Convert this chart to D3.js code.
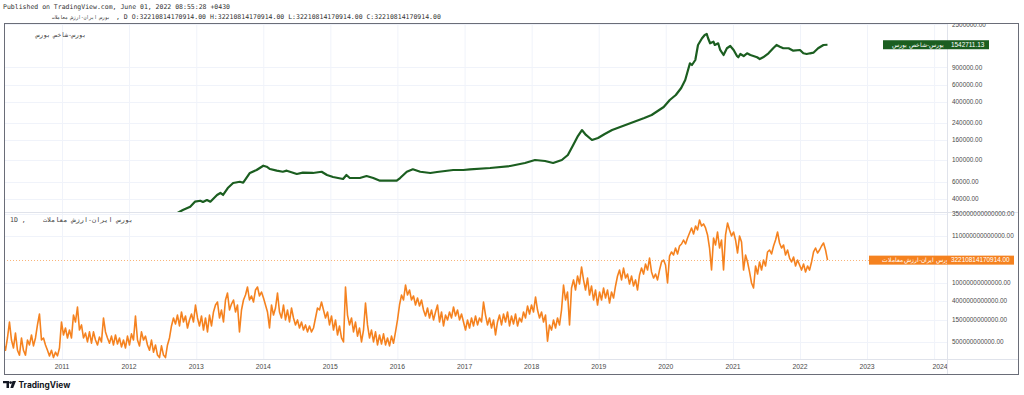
<!DOCTYPE html>
<html>
<head>
<meta charset="utf-8">
<script src="https://cdn.jsdelivr.net/npm/d3@7"></script>
<style>
  body { margin: 0; background: #fff; }
  svg { display: block; }
</style>
</head>
<body>
<svg id="chart" width="1024" height="395"></svg>
<script>
// ---- data ----
const headerPublished = "Published on TradingView.com, June 01, 2022 08:55:28 +0430";
const turnoverName = "بورس ایران-ارزش معاملات";
const indexName = "بورس-شاخص بورس";
const ohlcText = ", D O:32210814170914.00 H:32210814170914.00 L:32210814170914.00 C:32210814170914.00";

// TEDPIX (top pane), decimal years + index values
const tedpixYears = [
  2012.64, 2012.80, 2012.91, 2012.98, 2013.06, 2013.10, 2013.16, 2013.21, 2013.31, 2013.36,
  2013.40, 2013.47, 2013.55, 2013.65, 2013.70, 2013.80, 2013.90, 2014.00, 2014.05, 2014.10,
  2014.20, 2014.29, 2014.35, 2014.50, 2014.59, 2014.74, 2014.87, 2014.95, 2015.04, 2015.19,
  2015.24, 2015.29, 2015.44, 2015.54, 2015.64, 2015.74, 2015.99, 2016.04, 2016.14, 2016.23,
  2016.34, 2016.49, 2016.59, 2016.83, 2016.98, 2017.08, 2017.38, 2017.68, 2017.90, 2018.05,
  2018.20, 2018.32, 2018.45, 2018.54, 2018.62, 2018.69, 2018.75, 2018.81, 2018.90, 2018.99,
  2019.09, 2019.20, 2019.32, 2019.44, 2019.56, 2019.68, 2019.79, 2019.88, 2019.97, 2020.06,
  2020.15, 2020.23, 2020.29, 2020.36, 2020.39, 2020.44, 2020.48, 2020.54, 2020.58, 2020.61,
  2020.63, 2020.66, 2020.71, 2020.73, 2020.78, 2020.81, 2020.86, 2020.91, 2020.96, 2021.01,
  2021.06, 2021.08, 2021.11, 2021.16, 2021.21, 2021.26, 2021.36, 2021.40, 2021.45, 2021.53,
  2021.60, 2021.65, 2021.70, 2021.75, 2021.83, 2021.90, 2022.00, 2022.05, 2022.10, 2022.15,
  2022.20, 2022.27, 2022.35, 2022.41
];
const tedpixValues = [
  26500, 30500, 33000, 37200, 38000, 36900, 38700, 37200, 43600, 45700,
  43600, 51400, 57900, 59700, 58300, 73500, 78900, 87300, 85300, 80700,
  77600, 75700, 77600, 71800, 74000, 73500, 75700, 70000, 66800, 63700,
  70000, 65200, 65200, 68400, 65200, 61200, 61200, 65200, 75700, 80200,
  75700, 73500, 75200, 78900, 78900, 80200, 82700, 86700, 93100, 100000,
  97700, 93100, 100000, 112600, 143000, 176700, 203600, 181200, 160700, 168500,
  185300, 203600, 218600, 235000, 252500, 271100, 291200, 320100, 351800, 415600,
  468000, 552300, 668300, 993500, 953800, 1074000, 1534000, 1799000, 1945000, 1991000,
  1799000, 1597000, 1659000, 1534000, 1597000, 1362000, 1209000, 1419000, 1498000, 1362000,
  1180000, 1145000, 1238000, 1180000, 1259000, 1209000, 1145000, 1099000, 1145000, 1259000,
  1419000, 1534000, 1472000, 1419000, 1419000, 1340000, 1362000, 1259000, 1238000, 1259000,
  1277000, 1419000, 1534000, 1542711.13
];

// trading value (bottom pane), trillion rials, sampled every ~11 days up to the last bar
const turnoverLastDate = new Date(2022, 4, 31);
const turnoverStepDays = 10.89;
const turnoverTrillions = [
  0.46, 0.32, 0.60, 1.36, 0.54, 0.36, 0.77, 0.32, 0.25, 0.60,
  0.32, 0.25, 0.54, 0.42, 0.70, 0.40, 0.60, 1.17, 2.05, 0.54,
  0.60, 0.42, 0.32, 0.24, 0.32, 0.22, 0.29, 0.24, 0.36, 1.36,
  0.70, 1.0, 0.60, 0.90, 0.60, 1.94, 1.36, 2.93, 0.90, 1.17,
  0.60, 0.77, 0.49, 0.82, 0.46, 0.82, 0.54, 0.42, 0.63, 0.49,
  1.67, 0.82, 0.60, 0.46, 0.66, 0.42, 0.70, 0.44, 0.60, 0.38,
  0.54, 0.36, 0.66, 0.42, 0.74, 0.54, 1.85, 0.54, 0.40, 0.82,
  0.54, 0.66, 0.42, 0.32, 0.54, 0.29, 0.42, 0.25, 0.22, 0.40,
  0.25, 0.22, 0.42, 0.60, 1.11, 1.67, 1.23, 1.94, 1.11, 2.27,
  1.36, 1.85, 1.0, 1.51, 2.05, 1.36, 3.24, 1.67, 1.11, 1.85,
  0.90, 1.67, 0.82, 1.94, 1.11, 2.27, 3.24, 3.78, 1.67, 2.51,
  1.36, 4.19, 6.0, 2.51, 3.41, 4.19, 2.27, 3.24, 0.82, 2.51,
  4.19, 5.40, 8.15, 4.19, 5.15, 3.78, 6.99, 8.15, 5.15, 6.31,
  4.64, 3.24, 2.27, 1.0, 3.24, 1.94, 2.78, 6.0, 2.27, 1.67,
  3.24, 1.51, 2.51, 1.36, 2.78, 1.67, 1.17, 1.51, 1.0, 1.36,
  0.90, 1.17, 0.82, 1.11, 0.82, 1.0, 1.67, 2.78, 2.51, 3.78,
  2.51, 1.67, 2.27, 1.17, 1.85, 0.90, 1.51, 0.70, 1.11, 0.60,
  0.49, 8.15, 1.94, 1.17, 1.67, 0.82, 1.36, 0.66, 1.0, 0.49,
  0.90, 3.59, 1.17, 0.60, 0.90, 0.49, 0.82, 0.42, 0.70, 0.44,
  0.74, 0.42, 0.60, 0.40, 0.66, 0.46, 0.82, 1.51, 3.24, 5.40,
  4.19, 9.03, 5.40, 6.99, 4.19, 5.15, 3.24, 4.64, 3.08, 4.19,
  2.51, 1.85, 2.78, 1.67, 2.51, 1.51, 2.27, 3.24, 1.36, 2.27,
  1.11, 1.94, 1.51, 2.27, 1.67, 2.93, 1.85, 2.51, 1.51, 2.05,
  1.36, 0.90, 1.51, 1.0, 1.67, 1.11, 1.85, 1.17, 1.67, 1.36,
  3.78, 1.94, 1.17, 1.67, 1.0, 1.51, 0.70, 1.36, 1.94, 1.17,
  2.05, 1.36, 2.27, 1.11, 1.85, 1.23, 2.05, 1.11, 1.67, 1.36,
  2.27, 1.67, 3.08, 2.05, 3.24, 2.27, 4.89, 2.51, 1.67, 2.27,
  1.36, 1.94, 0.51, 1.17, 0.90, 1.51, 1.0, 1.67, 1.17, 2.51,
  9.03, 4.19, 6.31, 1.17, 7.74, 11.7, 6.99, 14.3, 9.5, 22.7,
  11.7, 6.99, 12.9, 5.40, 8.58, 4.19, 6.99, 3.24, 6.31, 4.19,
  7.74, 4.64, 6.99, 3.59, 6.31, 4.64, 8.58, 14.3, 19.4, 11.7,
  21.5, 12.9, 15.8, 9.5, 14.3, 8.58, 11.7, 6.99, 15.1, 21.5,
  15.8, 26.4, 19.4, 35.9, 17.6, 12.9, 15.8, 11.7, 19.4, 29.3,
  32.4, 25.1, 10.0, 39.8, 48.9, 41.9, 59.9, 44.1, 66.4, 73.6,
  90.3, 73.6, 100, 129, 167, 123, 185, 151, 251, 185,
  205, 167, 117, 59.9, 19.4, 100, 69.9, 136, 59.9, 90.3,
  19.4, 117, 215, 151, 111, 136, 90.3, 46.4, 111, 81.5,
  19.4, 41.9, 29.3, 17.6, 10.0, 7.74, 23.9, 15.8, 29.3, 19.4,
  32.4, 23.9, 48.9, 54.1, 44.1, 66.4, 90.3, 136, 77.4, 59.9,
  69.9, 41.9, 54.1, 35.9, 29.3, 37.8, 23.9, 32.4, 25.1, 19.4,
  26.4, 17.6, 23.9, 19.4, 29.3, 48.9, 59.9, 46.4, 54.1, 66.4,
  77.4, 54.1, 32.210814170914
];

const topTicks = [2500000, 900000, 600000, 400000, 240000, 160000, 100000, 60000, 40000];
const bottomTicks = [350000000000000, 110000000000000, 10000000000000, 4000000000000, 1500000000000, 500000000000];
const yearTicks = d3.range(2011, 2025);

// ---- layout ----
const frame = { left: 4, right: 1018, top: 23, bottom: 374 };
const plotRight = 947;
const paneSplit = 212;
const axisY = 359;

const green = "#1b5e20";
const orange = "#f5821f";
const gridColor = "#f0f3fa";
const sepColor = "#e0e3eb";
const textColor = "#4a4a4a";
const sans = "'Liberation Sans', Arial, sans-serif";
const mono = "'DejaVu Sans Mono', monospace";

const svg = d3.select("#chart");

const decimalToDate = (t) => {
  const y = Math.floor(t);
  const a = new Date(y, 0, 1), b = new Date(y + 1, 0, 1);
  return new Date(+a + (t - y) * (b - a));
};

const tedpix = tedpixYears.map((t, i) => ({ date: decimalToDate(t), value: tedpixValues[i] }));
const n = turnoverTrillions.length;
const turnover = turnoverTrillions.map((v, i) => ({
  date: new Date(+turnoverLastDate - (n - 1 - i) * turnoverStepDays * 864e5),
  value: v * 1e12,
}));

// scales
const x = d3.scaleTime()
  .domain([new Date(2011, 0, 1), new Date(2022, 0, 1)])
  .range([62, 800]);
const yTop = d3.scaleLog().domain([1e5, 1e6]).range([160, 63]);
const yBottom = d3.scaleLog().domain([1e13, 1e14]).range([283, 238]);

// clip paths
const defs = svg.append("defs");
defs.append("clipPath").attr("id", "clipTop").append("rect")
  .attr("x", frame.left).attr("y", frame.top)
  .attr("width", plotRight - frame.left).attr("height", paneSplit - frame.top);
defs.append("clipPath").attr("id", "clipBottom").append("rect")
  .attr("x", frame.left).attr("y", paneSplit)
  .attr("width", plotRight - frame.left).attr("height", axisY - paneSplit);
defs.append("clipPath").attr("id", "clipAxisTop").append("rect")
  .attr("x", plotRight).attr("y", frame.top)
  .attr("width", frame.right - plotRight).attr("height", paneSplit - frame.top);
defs.append("clipPath").attr("id", "clipXLabels").append("rect")
  .attr("x", frame.left).attr("y", axisY)
  .attr("width", plotRight - frame.left).attr("height", frame.bottom - axisY);

// vertical grid (years)
svg.append("g")
  .selectAll("line")
  .data(yearTicks)
  .enter()
  .append("line")
  .attr("x1", (d) => x(new Date(d, 0, 1)) + 0.5)
  .attr("x2", (d) => x(new Date(d, 0, 1)) + 0.5)
  .attr("y1", frame.top)
  .attr("y2", axisY)
  .attr("stroke", gridColor)
  .attr("stroke-width", 1)
  .style("display", (d) => (x(new Date(d, 0, 1)) < plotRight ? null : "none"));

// horizontal grids
svg.append("g")
  .selectAll("line")
  .data(topTicks)
  .enter()
  .append("line")
  .attr("x1", frame.left)
  .attr("x2", plotRight)
  .attr("y1", (d) => Math.round(yTop(d)) + 0.5)
  .attr("y2", (d) => Math.round(yTop(d)) + 0.5)
  .attr("stroke", gridColor);

svg.append("g")
  .selectAll("line")
  .data(bottomTicks)
  .enter()
  .append("line")
  .attr("x1", frame.left)
  .attr("x2", plotRight)
  .attr("y1", (d) => Math.round(yBottom(d)) + 0.5)
  .attr("y2", (d) => Math.round(yBottom(d)) + 0.5)
  .attr("stroke", gridColor);

// separators
svg.append("line")
  .attr("x1", frame.left).attr("x2", frame.right)
  .attr("y1", paneSplit + 0.5).attr("y2", paneSplit + 0.5)
  .attr("stroke", sepColor);
svg.append("line")
  .attr("x1", frame.left).attr("x2", frame.right)
  .attr("y1", axisY + 0.5).attr("y2", axisY + 0.5)
  .attr("stroke", sepColor);
svg.append("line")
  .attr("x1", plotRight + 0.5).attr("x2", plotRight + 0.5)
  .attr("y1", frame.top).attr("y2", frame.bottom)
  .attr("stroke", sepColor);

// last-value dotted line in the bottom pane
const lastTurnover = turnover[turnover.length - 1].value;
svg.append("line")
  .attr("x1", frame.left)
  .attr("x2", plotRight)
  .attr("y1", Math.round(yBottom(lastTurnover)) + 0.5)
  .attr("y2", Math.round(yBottom(lastTurnover)) + 0.5)
  .attr("stroke", orange)
  .attr("stroke-opacity", 0.6)
  .attr("stroke-dasharray", "1,2");

// series lines
const lineTop = d3.line().x((d) => x(d.date)).y((d) => yTop(d.value));
const lineBottom = d3.line().x((d) => x(d.date)).y((d) => yBottom(d.value));

svg.append("path")
  .datum(turnover)
  .attr("clip-path", "url(#clipBottom)")
  .attr("fill", "none")
  .attr("stroke", orange)
  .attr("stroke-width", 1.6)
  .attr("stroke-linejoin", "round")
  .attr("d", lineBottom);

svg.append("path")
  .datum(tedpix)
  .attr("clip-path", "url(#clipTop)")
  .attr("fill", "none")
  .attr("stroke", green)
  .attr("stroke-width", 2.2)
  .attr("stroke-linejoin", "round")
  .attr("d", lineTop);

// price axis labels
const fmt = d3.format(".2f");
svg.append("g")
  .attr("clip-path", "url(#clipAxisTop)")
  .selectAll("text")
  .data(topTicks)
  .enter()
  .append("text")
  .attr("x", 952)
  .attr("y", (d) => yTop(d))
  .attr("dy", "0.35em")
  .attr("font-family", sans)
  .attr("font-size", "6.4px")
  .attr("fill", textColor)
  .text((d) => fmt(d));

svg.append("g")
  .selectAll("text")
  .data(bottomTicks)
  .enter()
  .append("text")
  .attr("x", 952)
  .attr("y", (d) => yBottom(d))
  .attr("dy", "0.35em")
  .attr("font-family", sans)
  .attr("font-size", "6.4px")
  .attr("fill", textColor)
  .text((d) => fmt(d));

// time axis labels
svg.append("g")
  .attr("clip-path", "url(#clipXLabels)")
  .selectAll("text")
  .data(yearTicks)
  .enter()
  .append("text")
  .attr("x", (d) => x(new Date(d, 0, 1)) + (d === 2024 ? 6 : 0))
  .attr("y", 367)
  .attr("dy", "0.35em")
  .attr("text-anchor", "middle")
  .attr("font-family", sans)
  .attr("font-size", "6.8px")
  .attr("fill", textColor)
  .text((d) => d);

// last value badges
function badge(yPos, color, name, nameLeft, nameRight, valueText, valueRight) {
  const h = 9;
  const g = svg.append("g");
  g.append("rect")
    .attr("x", nameLeft).attr("y", yPos - h / 2)
    .attr("width", plotRight - nameLeft).attr("height", h)
    .attr("fill", color);
  g.append("text")
    .attr("x", nameRight).attr("y", yPos)
    .attr("dy", "0.35em")
    .attr("text-anchor", "end")
    .attr("font-family", sans)
    .attr("font-size", "6px")
    .attr("fill", "#fff")
    .text(name);
  g.append("rect")
    .attr("x", plotRight).attr("y", yPos - h / 2)
    .attr("width", valueRight - plotRight).attr("height", h)
    .attr("fill", color);
  g.append("text")
    .attr("x", 951).attr("y", yPos)
    .attr("dy", "0.35em")
    .attr("font-family", sans)
    .attr("font-size", "6.4px")
    .attr("fill", "#fff")
    .text(valueText);
}
const lastIndex = tedpix[tedpix.length - 1].value;
badge(yTop(lastIndex), green, indexName, 883, 944, fmt(lastIndex), 989);
badge(yBottom(lastTurnover), orange, turnoverName, 869, 951, "32210814170914.00", 1014);

// outer frame
svg.append("rect")
  .attr("x", frame.left + 0.5).attr("y", frame.top + 0.5)
  .attr("width", frame.right - frame.left).attr("height", frame.bottom - frame.top)
  .attr("fill", "none")
  .attr("stroke", "#6a6d78");

// header texts
svg.append("text")
  .attr("x", 3).attr("y", 9)
  .attr("font-family", mono).attr("font-size", "6.5px").attr("fill", "#333")
  .text(headerPublished);
svg.append("text")
  .attr("x", 52).attr("y", 19)
  .attr("font-family", mono).attr("font-size", "5.3px").attr("fill", "#333")
  .attr("textLength", 58).attr("lengthAdjust", "spacingAndGlyphs")
  .text(turnoverName);
svg.append("text")
  .attr("x", 116).attr("y", 19)
  .attr("font-family", mono).attr("font-size", "6.5px").attr("fill", "#333")
  .text(ohlcText);

// pane legends
svg.append("text")
  .attr("x", 36).attr("y", 37)
  .attr("font-family", mono).attr("font-size", "6.5px").attr("fill", "#444")
  .attr("textLength", 50).attr("lengthAdjust", "spacingAndGlyphs")
  .text(indexName);
svg.append("text")
  .attr("x", 10).attr("y", 222)
  .attr("font-family", mono).attr("font-size", "6.5px").attr("fill", "#444")
  .text("1D ,");
svg.append("text")
  .attr("x", 43).attr("y", 222)
  .attr("font-family", mono).attr("font-size", "6.5px").attr("fill", "#444")
  .attr("textLength", 90).attr("lengthAdjust", "spacingAndGlyphs")
  .text(turnoverName);

// TradingView logo
const logo = svg.append("g").attr("fill", "#131722");
logo.append("path").attr("d", "M3,381 H9 V388 H6.5 V383.3 H3 Z");
logo.append("circle").attr("cx", 10.6).attr("cy", 382.6).attr("r", 1.4);
logo.append("path").attr("d", "M12.5,381 H16 L13.2,388 H10.4 Z");
logo.append("text")
  .attr("x", 18.5).attr("y", 387.5)
  .attr("font-family", "Inter, 'Open Sans', sans-serif")
  .attr("font-weight", "bold")
  .attr("font-size", "8.4px")
  .attr("fill", "#131722")
  .text("TradingView");
</script>
</body>
</html>
